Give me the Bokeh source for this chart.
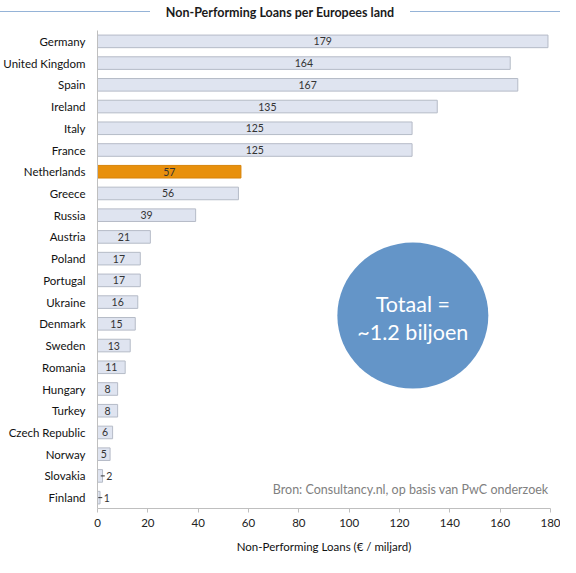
from bokeh.plotting import figure
from bokeh.layouts import column
from bokeh.models import ColumnDataSource, FactorRange, Range1d, FixedTicker, Div
from bokeh.core.properties import value
from bokeh.embed import file_html
from bokeh.resources import INLINE

# ---- data ----
countries = ["Germany", "United Kingdom", "Spain", "Ireland", "Italy", "France",
             "Netherlands", "Greece", "Russia", "Austria", "Poland", "Portugal",
             "Ukraine", "Denmark", "Sweden", "Romania", "Hungary", "Turkey",
             "Czech Republic", "Norway", "Slovakia", "Finland"]
npl_values = [179, 164, 167, 135, 125, 125, 57, 56, 39, 21, 17, 17, 16, 15, 13,
              11, 8, 8, 6, 5, 2, 1]
highlight = "Netherlands"
x_ticks = [0, 20, 40, 60, 80, 100, 120, 140, 160, 180]

title_text = "Non-Performing Loans per Europees land"
x_title = "Non-Performing Loans (\u20ac / miljard)"
total_lines = ["Totaal =", "~1.2 biljoen"]
source_note = "Bron: Consultancy.nl, op basis van PwC onderzoek"

FONT = "Lato"
BAR_FILL = "#dfe4f0"
BAR_LINE = "#b5bbc7"
HL_FILL = "#e8900c"
HL_LINE = "#d8840a"
AXIS_COL = "#bfbfbf"

W = 560
TITLE_H = 30
MAIN_H = 527

# ---- title strip (HTML, so its lines can run to the page edges) ----
title_html = (
    '<div style="position:relative;width:%dpx;height:%dpx;">'
    '<div style="position:absolute;left:0px;top:11px;width:150px;height:0px;'
    'border-top:1.3px solid #95b3d7;"></div>'
    '<div style="position:absolute;left:410px;top:11px;width:%dpx;height:0px;'
    'border-top:1.3px solid #95b3d7;"></div>'
    '<div style="position:absolute;left:150px;width:260px;top:4px;text-align:center;'
    'font-family:Lato;font-weight:bold;font-size:12.5px;line-height:18px;color:#1a1a1a;'
    'white-space:nowrap;">%s</div>'
    '</div>' % (W, TITLE_H, W - 410, title_text)
)
t = Div(text=title_html, width=W, height=TITLE_H, margin=(0, 0, 0, 0))

# ---- main chart ----
fills = [HL_FILL if c == highlight else BAR_FILL for c in countries]
lines = [HL_LINE if c == highlight else BAR_LINE for c in countries]
src = ColumnDataSource(dict(country=countries, val=npl_values, fill=fills, line=lines))

p = figure(width=W, height=MAIN_H,
           y_range=FactorRange(factors=countries[::-1]),
           x_range=Range1d(0, 180),
           output_backend="svg", toolbar_location=None,
           min_border_left=96, min_border_right=10, min_border_top=0,
           min_border_bottom=49)
p.outline_line_color = None
p.xgrid.visible = False
p.ygrid.visible = False

p.hbar(y="country", left=0, right="val", height=0.58, fill_color="fill",
       line_color="line", line_width=1, source=src)

# value labels
inside = [v >= 3 for v in npl_values]
lab_in = ColumnDataSource(dict(
    x=[v / 2 for v, i in zip(npl_values, inside) if i],
    y=[c for c, i in zip(countries, inside) if i],
    t=[str(v) for v, i in zip(npl_values, inside) if i]))
lab_out = ColumnDataSource(dict(
    x=[v + 1.5 for v, i in zip(npl_values, inside) if not i],
    x0=[v - 0.7 for v, i in zip(npl_values, inside) if not i],
    x1=[v + 0.9 for v, i in zip(npl_values, inside) if not i],
    y=[c for c, i in zip(countries, inside) if not i],
    t=[str(v) for v, i in zip(npl_values, inside) if not i]))
p.text(x="x", y="y", text="t", source=lab_in, text_align="center",
       text_baseline="middle", text_font=value(FONT), text_font_size="10.5px",
       text_color="#333333")
p.segment(x0="x0", x1="x1", y0="y", y1="y", source=lab_out, line_color="#333333",
          line_width=1)
p.text(x="x", y="y", text="t", source=lab_out, text_align="left",
       text_baseline="middle", text_font=value(FONT), text_font_size="10.5px",
       text_color="#333333")

# total bubble
p.ellipse(x=[125.3], y=[8.88], width=151, height=146, width_units="screen",
          height_units="screen", fill_color="#6495c8", line_color=None)
p.text(x=[125.3, 125.3], y=[9.43, 8.12], text=total_lines, text_align="center",
       text_baseline="middle", text_font=value(FONT), text_font_size="21.5px",
       text_color="white")

# source note
p.text(x=[179.2], y=[0.87], text=[source_note], text_align="right",
       text_baseline="middle", text_font=value(FONT), text_font_size="12.5px",
       text_color="#808080")

# axes
p.yaxis.axis_line_color = AXIS_COL
p.yaxis.major_tick_line_color = None
p.yaxis.minor_tick_line_color = None
p.yaxis.major_label_standoff = 6
p.yaxis.major_label_text_font = FONT
p.yaxis.major_label_text_font_size = "11.5px"
p.yaxis.major_label_text_color = "#111111"

p.xaxis.ticker = FixedTicker(ticks=x_ticks)
p.xaxis.axis_line_color = AXIS_COL
p.xaxis.major_tick_line_color = AXIS_COL
p.xaxis.major_tick_out = 4
p.xaxis.major_tick_in = 0
p.xaxis.minor_tick_line_color = None
p.xaxis.major_label_standoff = 6
p.xaxis.major_label_text_font = FONT
p.xaxis.major_label_text_font_size = "11.5px"
p.xaxis.major_label_text_color = "#222222"
p.xaxis.axis_label = x_title
p.xaxis.axis_label_standoff = 10
p.xaxis.axis_label_text_font = FONT
p.xaxis.axis_label_text_font_style = "normal"
p.xaxis.axis_label_text_font_size = "11.5px"
p.xaxis.axis_label_text_color = "#111111"

layout = column(t, p, spacing=0)
open("out.html", "w").write(file_html(layout, INLINE))
